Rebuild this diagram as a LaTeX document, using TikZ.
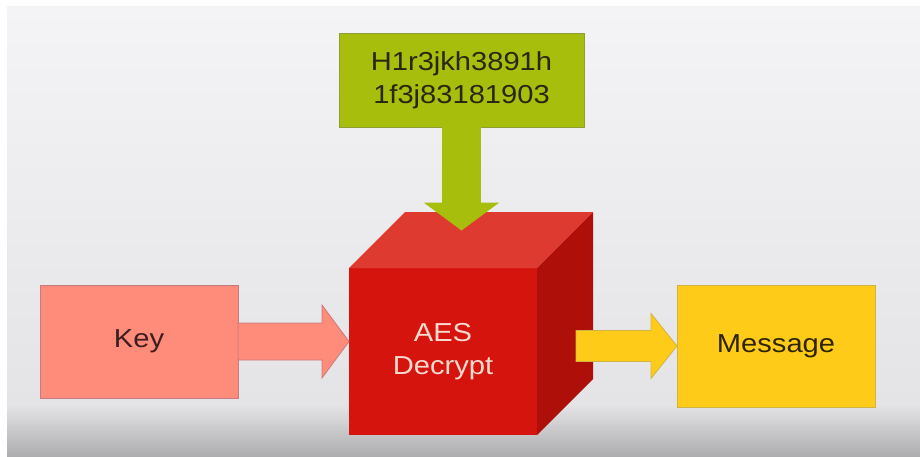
\documentclass[tikz,border=0pt]{standalone}
\usepackage{fontspec}
\setmainfont{Liberation Sans}[FakeStretch=1.12]
\usetikzlibrary{calc}
\definecolor{bgA}{HTML}{F4F4F6}
\definecolor{bgB}{HTML}{E4E4E6}
\definecolor{bgC}{HTML}{ADADAF}
\definecolor{grn}{HTML}{A8BE0C}
\definecolor{grnD}{HTML}{8E9F35}
\definecolor{grnT}{HTML}{26290F}
\definecolor{redF}{HTML}{D5150D}
\definecolor{redT}{HTML}{DF3A2F}
\definecolor{redR}{HTML}{AE0F09}
\definecolor{aesT}{HTML}{FAD9CF}
\definecolor{pink}{HTML}{FF8B7A}
\definecolor{pinkD}{HTML}{C97A7E}
\definecolor{pinkT}{HTML}{3B1E1E}
\definecolor{yel}{HTML}{FFCB19}
\definecolor{yelD}{HTML}{D2B444}
\definecolor{yelT}{HTML}{2E2400}
\begin{document}
\begin{tikzpicture}[x=1pt,y=-1pt,
  box/.style={rectangle, inner sep=0pt, outer sep=0pt, align=center,
    font=\fontsize{26}{33}\selectfont, line width=0.8pt},
  blockarrow/.style={line width=0.8pt, line join=miter}]
\useasboundingbox (0,0) rectangle (920,456);
\fill[white] (0,0) rectangle (920,456);
\shade[top color=bgA, bottom color=bgB] (7,6) rectangle (920,405);
\shade[top color=bgB, bottom color=bgC] (7,405) rectangle (920,456);

% nodes
\node[box, fill=grn, draw=grnD, text=grnT, minimum width=245pt, minimum height=94pt]
  (hash) at (461.5,80) {H1r3jkh3891h\\1f3j83181903};
\node[box, fill=redF, text=aesT, minimum width=188pt, minimum height=167pt]
  (cube) at (443,351.5) {AES\\Decrypt};
\node[box, fill=pink, draw=pinkD, text=pinkT, minimum width=198pt, minimum height=113pt]
  (key) at (139,341.5) {Key};
\node[box, fill=yel, draw=yelD, text=yelT, minimum width=198pt, minimum height=122pt]
  (msg) at (776,346) {Message};

% cube faces
\fill[redT] (cube.north west) -- ++(56,-56) -- ++(188,0) -- (cube.north east) -- cycle;
\fill[redR] (cube.north east) -- ++(56,-56) -- ++(0,167) -- (cube.south east) -- cycle;

% key -> cube
\filldraw[blockarrow, fill=pink, draw=pinkD]
  let \p1=(key.east), \p2=(cube.west) in
  (\x1,\y1+18.5pt) -- (\x2-27pt,\y1+18.5pt) -- (\x2-27pt,\y1+36.5pt) -- (\x2,\y1)
  -- (\x2-27pt,\y1-36.5pt) -- (\x2-27pt,\y1-18.5pt) -- (\x1,\y1-18.5pt) -- cycle;

% hash -> cube
\filldraw[blockarrow, fill=grn, draw=grn]
  let \p1=(hash.south) in
  (\x1-19pt,\y1) -- (\x1-19pt,\y1-76pt) -- (\x1-36.5pt,\y1-76pt) -- (\x1,\y1-103pt)
  -- (\x1+36.5pt,\y1-76pt) -- (\x1+19pt,\y1-76pt) -- (\x1+19pt,\y1) -- cycle;

% cube -> message
\filldraw[blockarrow, fill=yel, draw=yelD]
  let \p1=(msg.west) in
  (\x1-101pt,\y1+15.5pt) -- (\x1-26pt,\y1+15.5pt) -- (\x1-26pt,\y1+32.5pt) -- (\x1,\y1)
  -- (\x1-26pt,\y1-32.5pt) -- (\x1-26pt,\y1-15.5pt) -- (\x1-101pt,\y1-15.5pt) -- cycle;
\end{tikzpicture}
\end{document}
